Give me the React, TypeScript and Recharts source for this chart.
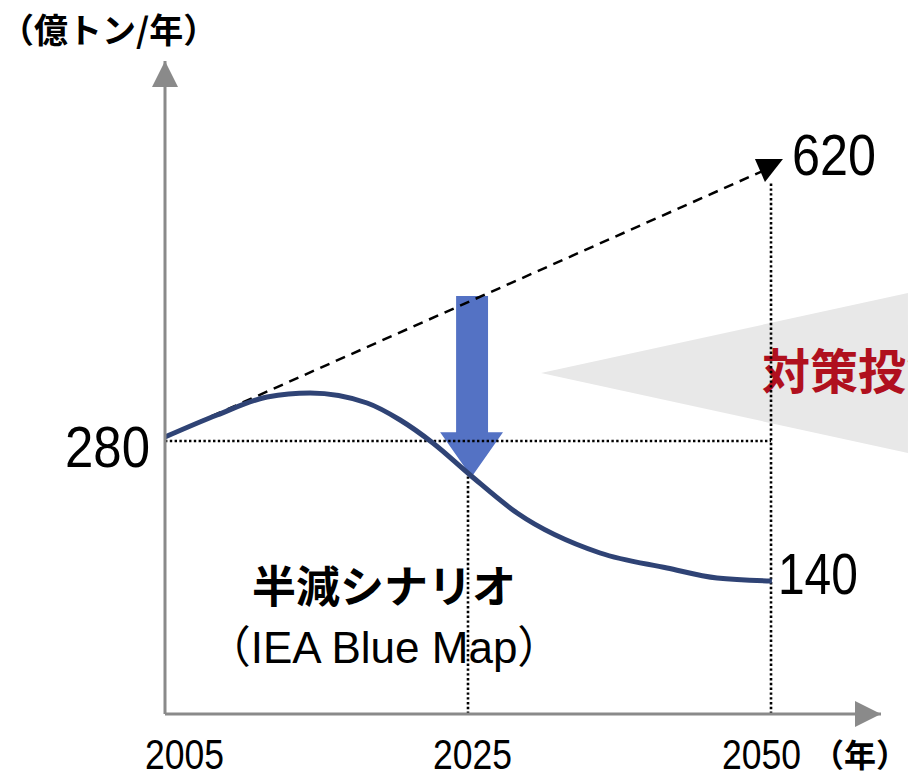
import React from 'react';
import { ComposedChart, Line, XAxis, YAxis, ReferenceLine, ReferenceArea, ReferenceDot } from 'recharts';

// ---- data (conceptual chart: values are in the picture's own vertical units) ----
const yearTicks = [0, 1, 2];
const yearLabels = ['2005', '2025', '2050'];
const curveX = [0, 0.172, 0.337, 0.479, 0.667, 0.776, 0.884, 1.007, 1.162, 1.436, 1.657, 1.822, 2.003];
const curveY = [277, 299, 317, 321, 311, 294, 271, 239, 201, 161, 146, 136, 133];
const trendX = [0, 1.98];
const trendY = [277, 544];
const baseLevel = 273; // the 280 guide
const valueLabels = { base: '280', half: '140', bau: '620' };
const titleText = '（億トン/年）';
const yearUnit = '（年）';
const scenarioLines = ['半減シナリオ', '（IEA Blue Map）'];
const policyText = '対策投資';

const curveData = curveX.map((x, i) => ({ x, y: curveY[i] }));
const trendData = trendX.map((x, i) => ({ x, t: trendY[i] }));

const NUM_FONT = "'Liberation Sans', 'DejaVu Sans', sans-serif";
const JP_FONT = "'Noto Sans CJK JP', sans-serif";
const AXIS = '#8a8a8a';
const X_MAX = 2.363;
const Y_MAX = 653;

const NarrowText = ({ x, y, size, width, anchor = 'start', children }: any) => (
  <text
    x={x}
    y={y}
    textAnchor={anchor}
    fontSize={size}
    fontFamily={NUM_FONT}
    fill="#000"
    textLength={width}
    lengthAdjust="spacingAndGlyphs"
  >
    {children}
  </text>
);

const YearTick = (props: any) => {
  const { x, y, index } = props;
  const dx = index === 0 ? -20 : index === 2 ? -49 : -35;
  return (
    <NarrowText x={x + dx} y={y + 55} size={42} width={79}>
      {yearLabels[index]}
    </NarrowText>
  );
};

const BaseTick = (props: any) => {
  const { x, y } = props;
  return (
    <NarrowText x={x - 85} y={y + 26} size={58} width={85}>
      {valueLabels.base}
    </NarrowText>
  );
};

const UpArrowHead = (props: any) => {
  const { cx, cy } = props;
  return (
    <g>
      <polygon points={`${cx},${cy} ${cx - 13},${cy + 26} ${cx + 13},${cy + 26}`} fill={AXIS} />
      <text x={cx - 165} y={cy - 18} fontSize={34} fontWeight={700} fontFamily={JP_FONT} fill="#000">{titleText}</text>
    </g>
  );
};

const RightArrowHead = (props: any) => {
  const { cx, cy } = props;
  return (
    <g>
      <polygon points={`${cx},${cy} ${cx - 26},${cy - 13} ${cx - 26},${cy + 13}`} fill={AXIS} />
      <text x={cx + 27} y={cy + 53} textAnchor="end" fontSize={32} fontWeight={700} fontFamily={JP_FONT} fill="#000">{yearUnit}</text>
    </g>
  );
};

const TrendEnd = (props: any) => {
  const { cx, cy, index } = props;
  if (index !== trendData.length - 1) return null;
  return (
    <g>
      <polygon points={`${cx - 10},${cy - 11} ${cx + 18},${cy - 11} ${cx},${cy + 12}`} fill="#000" />
      <NarrowText x={cx + 27} y={cy + 5} size={57} width={84}>{valueLabels.bau}</NarrowText>
    </g>
  );
};

const CurveEnd = (props: any) => {
  const { cx, cy, index } = props;
  if (index !== curveData.length - 1) return null;
  return (
    <NarrowText x={cx + 6} y={cy + 13} size={57} width={80}>{valueLabels.half}</NarrowText>
  );
};

const DownArrow = (props: any) => {
  const { x, y, width, height } = props;
  const sx1 = x + width * 0.254;
  const sx2 = x + width * 0.762;
  const hb = y + height * 0.753;
  const pts = [
    [sx1, y], [sx2, y], [sx2, hb], [x + width, hb], [x + width / 2, y + height], [x, hb], [sx1, hb],
  ].map((p) => p.join(',')).join(' ');
  return <polygon points={pts} fill="#5472C4" />;
};

const Wedge = (props: any) => {
  const { x, y, width, height } = props;
  const pts = `${x},${y + height / 2} ${x + width},${y} ${x + width},${y + height}`;
  return (
    <g>
      <polygon points={pts} fill="#E8E8E8" />
      <text x={x + 221} y={y + 96} fontSize={48} fontWeight={700} fontFamily={JP_FONT} fill="#B0101E">{policyText}</text>
    </g>
  );
};

const ScenarioText = (props: any) => {
  const { cx, cy } = props;
  return (
    <g>
      <text x={cx} y={cy} textAnchor="middle" fontSize={44} fontWeight={700} fontFamily={JP_FONT} fill="#000">{scenarioLines[0]}</text>
      <text x={cx} y={cy + 60} textAnchor="middle" fontSize={44} fontFamily={"'Liberation Sans', 'Noto Sans CJK JP', sans-serif"} fill="#000">{scenarioLines[1]}</text>
    </g>
  );
};

export default function App() {
  return (
    <div style={{ position: 'absolute', left: 0, top: 0, width: 908, height: 777, overflow: 'hidden', background: '#fff' }}>
      <ComposedChart width={908} height={777} margin={{ top: 61, right: 27, bottom: 0, left: 0 }}>
        <XAxis
          dataKey="x"
          type="number"
          domain={[0, X_MAX]}
          ticks={yearTicks}
          allowDataOverflow
          height={63}
          tickSize={0}
          tickMargin={0}
          tickLine={false}
          axisLine={{ stroke: AXIS, strokeWidth: 3 }}
          tick={<YearTick />}
        />
        <YAxis
          type="number"
          domain={[0, Y_MAX]}
          ticks={[baseLevel]}
          allowDataOverflow
          width={165}
          tickSize={0}
          tickMargin={15}
          tickLine={false}
          axisLine={{ stroke: AXIS, strokeWidth: 3 }}
          tick={<BaseTick />}
        />
        <ReferenceArea x1={1.241} x2={2.452} y1={261} y2={421} ifOverflow="visible" shape={<Wedge />} />
        <ReferenceLine segment={[{ x: 0, y: baseLevel }, { x: 2, y: baseLevel }]} stroke="#000" strokeWidth={2.6} strokeDasharray="2.4 2.4" />
        <ReferenceLine segment={[{ x: 1, y: 0 }, { x: 1, y: 239 }]} stroke="#000" strokeWidth={2.6} strokeDasharray="2.4 2.4" />
        <ReferenceLine segment={[{ x: 2, y: 0 }, { x: 2, y: 532 }]} stroke="#000" strokeWidth={2.6} strokeDasharray="2.4 2.4" />
        <Line data={trendData} dataKey="t" type="linear" stroke="#000" strokeWidth={2.5} strokeDasharray="10 7" dot={<TrendEnd />} activeDot={false} isAnimationActive={false} />
        <Line data={curveData} dataKey="y" type="monotone" stroke="#2F4375" strokeWidth={5} dot={<CurveEnd />} activeDot={false} isAnimationActive={false} />
        <ReferenceArea x1={0.908} x2={1.1155} y1={237} y2={418} ifOverflow="visible" shape={<DownArrow />} />
        <ReferenceDot x={0} y={Y_MAX} r={0} ifOverflow="visible" shape={<UpArrowHead />} />
        <ReferenceDot x={X_MAX} y={0} r={0} ifOverflow="visible" shape={<RightArrowHead />} />
        <ReferenceDot x={0.723} y={111} r={0} ifOverflow="visible" shape={<ScenarioText />} />
      </ComposedChart>
    </div>
  );
}
